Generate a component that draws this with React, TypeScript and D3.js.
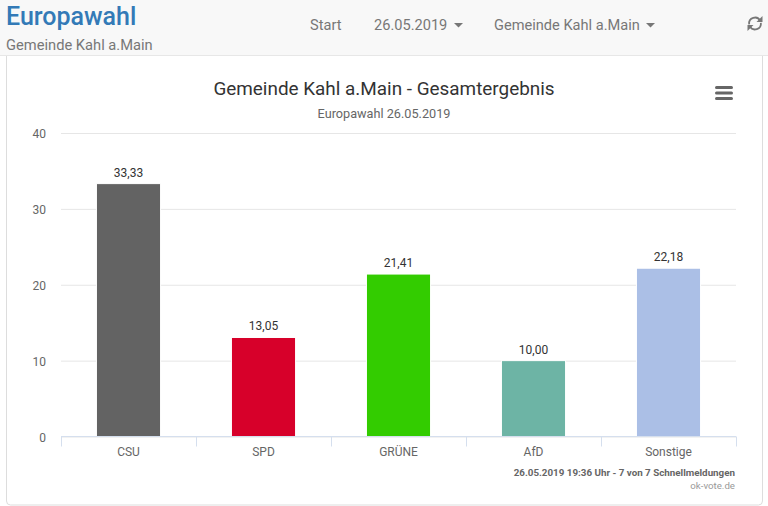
import React, { useEffect, useRef } from "react";
import * as d3 from "d3";

const parties = ["CSU", "SPD", "GRÜNE", "AfD", "Sonstige"];
const shares = [33.33, 13.05, 21.41, 10.0, 22.18];
const barColors = ["#636363", "#d7002a", "#33cc00", "#6db4a5", "#abbfe6"];
const yTicks = [0, 10, 20, 30, 40];

const navItems = ["Start", "26.05.2019", "Gemeinde Kahl a.Main"];

const W = 768;
const H = 506;
const FONT = "Roboto, sans-serif";

const App = () => {
  const ref = useRef<SVGSVGElement>(null);

  useEffect(() => {
    const svg = d3.select(ref.current);
    svg.selectAll("*").remove();
    svg.style("font-family", FONT);

    // card behind the chart
    svg.append("rect")
      .attr("x", 6.5).attr("y", 40).attr("width", 756).attr("height", 465)
      .attr("rx", 4)
      .attr("fill", "#fff").attr("stroke", "#dddddd");

    // navbar
    svg.append("rect").attr("width", W).attr("height", 55).attr("fill", "#f8f8f8");
    svg.append("line")
      .attr("x1", 0).attr("x2", W).attr("y1", 55.5).attr("y2", 55.5)
      .attr("stroke", "#e7e7e7");

    svg.append("text").attr("x", 6).attr("y", 25)
      .attr("font-size", 25).attr("font-weight", 500).attr("fill", "#337ab7")
      .text("Europawahl");
    svg.append("text").attr("x", 6).attr("y", 50)
      .attr("font-size", 14.7).attr("fill", "#777")
      .text("Gemeinde Kahl a.Main");

    const navX = [310, 374, 494];
    navItems.forEach((d, i) => {
      svg.append("text").attr("x", navX[i]).attr("y", 30)
        .attr("font-size", 14.6).attr("fill", "#777").text(d);
    });
    // dropdown carets
    [[454, 23], [646, 23]].forEach(([x, y]) => {
      svg.append("path")
        .attr("d", `M${x},${y}h9l-4.5,4.5z`)
        .attr("fill", "#777");
    });

    // refresh icon
    const refresh = svg.append("g").attr("transform", "translate(755,23.5)");
    const arc = d3.arc();
    refresh.append("path")
      .attr("d", arc({ innerRadius: 5, outerRadius: 6.8, startAngle: -1.7, endAngle: 1.1 }) as string)
      .attr("fill", "#777");
    refresh.append("path")
      .attr("d", arc({ innerRadius: 5, outerRadius: 6.8, startAngle: 1.45, endAngle: 4.2 }) as string)
      .attr("fill", "#777");
    refresh.append("path").attr("d", "M7.5,-7.5v6h-6z").attr("fill", "#777");
    refresh.append("path").attr("d", "M-7.5,7.5v-6h6z").attr("fill", "#777");

    // chart
    const x = d3.scaleBand<string>().domain(parties).range([61, 736])
      .paddingInner(0.525).paddingOuter(0.2625);
    const xTick = d3.scaleBand<string>().domain(parties).range([61, 736]);
    const y = d3.scaleLinear().domain([0, 40]).range([436.5, 133]);

    const grid = svg.append("g").attr("transform", "translate(61,0)")
      .call(d3.axisLeft(y).tickValues(yTicks).tickSize(-675).tickFormat(() => ""));
    grid.select(".domain").remove();
    grid.selectAll("line").attr("stroke", "#e6e6e6");

    const yAxis = svg.append("g").attr("transform", "translate(46,0)")
      .call(d3.axisLeft(y).tickValues(yTicks).tickSize(0).tickPadding(0));
    yAxis.select(".domain").remove();
    yAxis.selectAll("text")
      .attr("font-family", FONT).attr("font-size", 12).attr("fill", "#666")
      .attr("dy", "0.4em");

    svg.append("g").selectAll("rect").data(parties).enter().append("rect")
      .attr("x", (d) => x(d)!)
      .attr("y", (d, i) => y(shares[i]))
      .attr("width", x.bandwidth())
      .attr("height", (d, i) => y(0) - y(shares[i]))
      .attr("fill", (d, i) => barColors[i])
      .attr("stroke", "#fff");

    svg.append("g").selectAll("text").data(parties).enter().append("text")
      .attr("x", (d) => x(d)! + x.bandwidth() / 2)
      .attr("y", (d, i) => y(shares[i]) - 7)
      .attr("text-anchor", "middle")
      .attr("font-size", 12).attr("fill", "#333")
      .text((d, i) => shares[i].toFixed(2).replace(".", ","));

    // x axis, ticks sit on the band edges
    const edges = [...parties.map((d) => xTick(d)!), 736];
    const xAxisLine = svg.append("g");
    xAxisLine.append("line")
      .attr("x1", 61).attr("x2", 736).attr("y1", 436.5).attr("y2", 436.5)
      .attr("stroke", "#d5dfee");
    xAxisLine.selectAll("line.tick").data(edges).enter().append("line")
      .attr("class", "tick")
      .attr("x1", (d) => d + 0.5).attr("x2", (d) => d + 0.5)
      .attr("y1", 436.5).attr("y2", 446.5)
      .attr("stroke", "#d5dfee");

    svg.append("g").selectAll("text").data(parties).enter().append("text")
      .attr("x", (d) => xTick(d)! + xTick.bandwidth() / 2)
      .attr("y", 456)
      .attr("text-anchor", "middle")
      .attr("font-size", 12).attr("fill", "#666")
      .text((d) => d);

    // titles
    svg.append("text").attr("x", 384).attr("y", 95)
      .attr("text-anchor", "middle").attr("font-size", 18.9).attr("fill", "#333")
      .text("Gemeinde Kahl a.Main - Gesamtergebnis");
    svg.append("text").attr("x", 384).attr("y", 118)
      .attr("text-anchor", "middle").attr("font-size", 12.7).attr("fill", "#666")
      .text("Europawahl 26.05.2019");

    // menu icon
    [87.5, 93, 98.5].forEach((yy) => {
      svg.append("line")
        .attr("x1", 716.5).attr("x2", 731.5).attr("y1", yy).attr("y2", yy)
        .attr("stroke", "#666").attr("stroke-width", 3).attr("stroke-linecap", "round");
    });

    // credits
    svg.append("text").attr("x", 735).attr("y", 476)
      .attr("text-anchor", "end").attr("font-size", 9.8).attr("font-weight", 700).attr("fill", "#666")
      .text("26.05.2019 19:36 Uhr - 7 von 7 Schnellmeldungen");
    svg.append("text").attr("x", 735).attr("y", 489)
      .attr("text-anchor", "end").attr("font-size", 9.7).attr("fill", "#999")
      .text("ok-vote.de");
  }, []);

  return (
    <svg
      ref={ref}
      width={W}
      height={H}
      style={{ position: "absolute", left: 0, top: 0, display: "block" }}
    />
  );
};

export default App;
